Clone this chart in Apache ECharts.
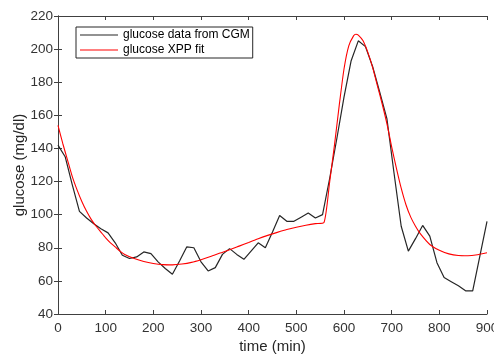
<!DOCTYPE html>
<html>
<head>
<meta charset="utf-8">
<script src="https://cdn.jsdelivr.net/npm/echarts@6/dist/echarts.min.js"></script>
<style>
html,body{margin:0;padding:0;background:#fff;}
#chart{width:494px;height:356px;}
</style>
</head>
<body>
<div id="chart"></div>
<script>
// CGM measurements (every 15 min)
var cgmTimes = [0,15,30,45,60,75,90,105,120,135,150,165,180,195,210,225,240,255,270,285,300,315,330,345,360,375,390,405,420,435,450,465,480,495,510,525,540,555,570,585,600,615,630,645,660,675,690,705,720,735,750,765,780,795,810,825,840,855,870,885,900];
var cgmGlucose = [142,135,118,102,98,94.5,91.5,89,83,75.5,73.5,74.5,77.5,76.5,71.5,67.5,64,72,80.5,80,71.5,66,68,76,79.5,76,73,78,83,80,89.5,99.5,96,96,98.5,101,98,100,122,146,171,193,205,201.5,189.5,174,158,125,93,78,85.5,93.5,87,71,62,59.5,57,54,54,75,96];
// XPP model fit
var fitTimes = [0,10,20,30,40,50,60,70,80,90,100,110,120,130,140,160,180,200,220,240,260,280,300,320,340,360,380,400,420,440,460,480,500,520,540,558,570,580,590,600,610,620,625,630,640,650,660,670,680,690,700,710,720,730,740,750,760,780,800,820,840,860,880,900];
var fitGlucose = [154,143,133,123,115,108,102,97,93,89.5,86,83,80.5,78,76,73.5,71.7,70.5,69.8,69.7,70.2,71.2,72.8,74.7,76.8,78.8,81,83.2,85.5,87.5,89.3,91,92.4,93.6,94.6,95.3,120,142,166,188,202,208,209,208.5,205,198,189,178,167,155,141,128,116,106,98.5,93,88.5,82,78.5,76.3,75.3,75.2,75.8,77];
var xTicks = {min:0, max:900, step:100};
var yTicks = {min:40, max:220, step:20};

function pairs(xs, ys){ return xs.map(function(x,i){ return [x, ys[i]]; }); }

var FONT = 'Liberation Sans, Arial, sans-serif';
var AX = '#404040';
var LINE_ICON = 'path://M0,0 L38,0 L38,1.2 L0,1.2 Z';
var chart = echarts.init(document.getElementById('chart'), null, {renderer:'canvas'});
var axisCommon = {
  axisLine:{show:true, lineStyle:{color:AX, width:1}},
  axisTick:{show:true, inside:true, length:4, lineStyle:{color:AX, width:1}},
  splitLine:{show:false}
};
chart.setOption({
  animation:false,
  backgroundColor:'#fff',
  grid:{left:58, right:7, top:16, bottom:42, containLabel:false, outerBoundsMode:'none'},
  legend:{
    orient:'vertical', left:76, top:27,
    padding:[2,3,2,4], itemGap:3, itemWidth:38, itemHeight:14,
    backgroundColor:'#fff', borderColor:'#262626', borderWidth:1,
    textStyle:{fontFamily:FONT, fontSize:12, color:'#000'},
    data:[{name:'glucose data from CGM', icon:LINE_ICON},{name:'glucose XPP fit', icon:LINE_ICON}]
  },
  xAxis:[
    Object.assign({type:'value', min:xTicks.min, max:xTicks.max, interval:xTicks.step, position:'bottom',
      name:'time (min)', nameLocation:'middle', nameGap:25, nameMoveOverlap:false,
      nameTextStyle:{fontFamily:FONT, fontSize:15, color:'#262626'},
      axisLabel:{margin:7, fontFamily:FONT, fontSize:13.5, color:'#333'}}, axisCommon),
    Object.assign({type:'value', min:xTicks.min, max:xTicks.max, interval:xTicks.step, position:'top',
      axisLabel:{show:false}}, axisCommon)
  ],
  yAxis:[
    Object.assign({type:'value', min:yTicks.min, max:yTicks.max, interval:yTicks.step, position:'left',
      name:'glucose (mg/dl)', nameLocation:'middle', nameGap:31, nameMoveOverlap:false,
      nameTextStyle:{fontFamily:FONT, fontSize:15, color:'#262626'},
      axisLabel:{margin:5, fontFamily:FONT, fontSize:13.5, color:'#333'}}, axisCommon),
    Object.assign({type:'value', min:yTicks.min, max:yTicks.max, interval:yTicks.step, position:'right',
      axisLabel:{show:false}}, axisCommon)
  ],
  series:[
    {name:'glucose data from CGM', type:'line', data:pairs(cgmTimes, cgmGlucose),
      symbol:'none', lineStyle:{color:'#262626', width:1.2}, itemStyle:{color:'#262626'}, z:2},
    {name:'glucose XPP fit', type:'line', data:pairs(fitTimes, fitGlucose), smooth:0.2,
      symbol:'none', lineStyle:{color:'#ff0000', width:1.1}, itemStyle:{color:'#ff0000'}, z:3}
  ]
});
</script>
</body>
</html>
